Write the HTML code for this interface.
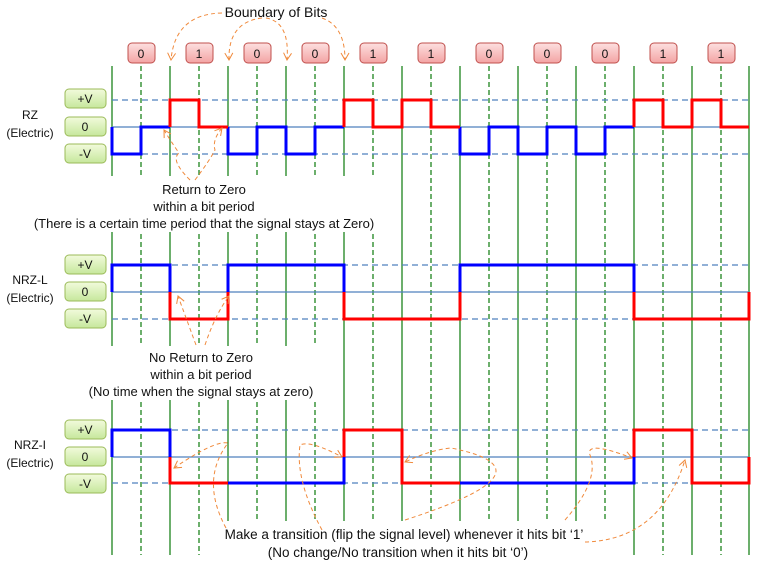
<!DOCTYPE html>
<html><head><style>
html,body{margin:0;padding:0;background:#fff;}
svg{display:block;}
text{font-family:"Liberation Sans",sans-serif;font-size:12px;fill:#111;}
.a{font-size:13px;}
.b{font-size:13.5px;}
</style></head><body>
<svg width="759" height="567" viewBox="0 0 759 567" xmlns="http://www.w3.org/2000/svg">
<defs>
<linearGradient id="gg" x1="0" y1="0" x2="0" y2="1"><stop offset="0" stop-color="#f2fbdc"/><stop offset="1" stop-color="#c6e79c"/></linearGradient>
<linearGradient id="pg" x1="0" y1="0" x2="0" y2="1"><stop offset="0" stop-color="#fde0e0"/><stop offset="1" stop-color="#f3a3a3"/></linearGradient>
<marker id="ar" markerWidth="10" markerHeight="10" refX="8" refY="5" orient="auto" markerUnits="userSpaceOnUse"><path d="M1,1 L8,5 L1,9" fill="none" stroke="#f08a3c" stroke-width="1"/></marker>
</defs>
<g stroke="#0a7a0a" stroke-width="1.2">
<line x1="112" y1="66" x2="112" y2="555"/><line x1="170" y1="66" x2="170" y2="555"/><line x1="228" y1="66" x2="228" y2="555"/><line x1="286" y1="66" x2="286" y2="555"/><line x1="344" y1="66" x2="344" y2="555"/><line x1="402" y1="66" x2="402" y2="555"/><line x1="460" y1="66" x2="460" y2="555"/><line x1="518" y1="66" x2="518" y2="555"/><line x1="576" y1="66" x2="576" y2="555"/><line x1="634" y1="66" x2="634" y2="555"/><line x1="692" y1="66" x2="692" y2="555"/><line x1="749" y1="66" x2="749" y2="555"/>
</g>
<g stroke="#0a7a0a" stroke-width="1.2" stroke-dasharray="5,3">
<line x1="141" y1="66" x2="141" y2="555"/><line x1="199" y1="66" x2="199" y2="555"/><line x1="257" y1="66" x2="257" y2="555"/><line x1="315" y1="66" x2="315" y2="555"/><line x1="373" y1="66" x2="373" y2="555"/><line x1="431" y1="66" x2="431" y2="555"/><line x1="489" y1="66" x2="489" y2="555"/><line x1="547" y1="66" x2="547" y2="555"/><line x1="605" y1="66" x2="605" y2="555"/><line x1="663" y1="66" x2="663" y2="555"/><line x1="721" y1="66" x2="721" y2="555"/>
</g>
<g fill="#fff">
<rect x="30" y="176" width="348" height="56"/>
<rect x="85" y="346" width="232" height="54"/>
<rect x="215" y="521" width="392" height="40"/>
<rect x="0" y="0" width="759" height="66"/>
</g>
<g stroke="#4f81bd" stroke-width="1.2">
<line x1="112" y1="127" x2="749" y2="127"/><line x1="112" y1="292" x2="749" y2="292"/><line x1="112" y1="457" x2="749" y2="457"/>
</g>
<g stroke="#4f81bd" stroke-width="1.2" stroke-dasharray="6,4">
<line x1="112" y1="100" x2="749" y2="100"/><line x1="112" y1="154" x2="749" y2="154"/>
<line x1="112" y1="265" x2="749" y2="265"/><line x1="112" y1="319" x2="749" y2="319"/>
<line x1="112" y1="430" x2="749" y2="430"/><line x1="112" y1="483" x2="749" y2="483"/>
</g>
<g fill="none" stroke-width="3" stroke-linejoin="miter">
<path stroke="#0000ff" d="M112,127 V154 H141 V127 H170 M228,127 V154 H257 V127 H286 V154 H315 V127 H344 M460,127 V154 H489 V127 H518 V154 H547 V127 H576 V154 H605 V127 H634"/>
<path stroke="#ff0000" d="M170,127 V100 H199 V127 H228 M344,127 V100 H373 V127 H402 V100 H431 V127 H460 M634,127 V100 H663 V127 H692 V100 H721 V127 H749"/>
<path stroke="#0000ff" d="M112,292 V265 H170 V292 M228,292 V265 H344 V292 M460,292 V265 H634 V292"/>
<path stroke="#ff0000" d="M170,292 V319 H228 V292 M344,292 V319 H460 V292 M634,292 V319 H749 V292"/>
<path stroke="#0000ff" d="M112,457 V430 H170 V457 M228,483 H344 V457 M460,483 H634 V457"/>
<path stroke="#ff0000" d="M170,457 V483 H228 M344,457 V430 H402 V483 H460 M634,457 V430 H692 V483 H749 V457"/>
</g>
<g stroke="#c0504d" stroke-width="1" fill="url(#pg)">
<rect x="128" y="43" width="27" height="20" rx="4"/><rect x="186" y="43" width="27" height="20" rx="4"/><rect x="244" y="43" width="27" height="20" rx="4"/><rect x="302" y="43" width="27" height="20" rx="4"/><rect x="360" y="43" width="27" height="20" rx="4"/><rect x="418" y="43" width="27" height="20" rx="4"/><rect x="476" y="43" width="27" height="20" rx="4"/><rect x="534" y="43" width="27" height="20" rx="4"/><rect x="592" y="43" width="27" height="20" rx="4"/><rect x="650" y="43" width="27" height="20" rx="4"/><rect x="708" y="43" width="27" height="20" rx="4"/>
</g>
<g text-anchor="middle">
<text x="141" y="58">0</text><text x="199" y="58">1</text><text x="257" y="58">0</text><text x="315" y="58">0</text><text x="373" y="58">1</text><text x="431" y="58">1</text><text x="489" y="58">0</text><text x="547" y="58">0</text><text x="605" y="58">0</text><text x="663" y="58">1</text><text x="721" y="58">1</text>
</g>
<g stroke="#9bbb59" stroke-width="1" fill="url(#gg)">
<rect x="65" y="89" width="41" height="19" rx="4"/><rect x="65" y="117" width="41" height="19" rx="4"/><rect x="65" y="144" width="41" height="19" rx="4"/>
<rect x="65" y="255" width="41" height="19" rx="4"/><rect x="65" y="282" width="41" height="19" rx="4"/><rect x="65" y="309" width="41" height="19" rx="4"/>
<rect x="65" y="420" width="41" height="19" rx="4"/><rect x="65" y="447" width="41" height="19" rx="4"/><rect x="65" y="474" width="41" height="19" rx="4"/>
</g>
<g text-anchor="middle">
<text x="85" y="103">+V</text><text x="85" y="131">0</text><text x="85" y="158">-V</text>
<text x="85" y="269">+V</text><text x="85" y="296">0</text><text x="85" y="323">-V</text>
<text x="85" y="434">+V</text><text x="85" y="461">0</text><text x="85" y="488">-V</text>
<text x="30" y="119">RZ</text><text x="30" y="137">(Electric)</text>
<text x="30" y="284">NRZ-L</text><text x="30" y="302">(Electric)</text>
<text x="30" y="449">NRZ-I</text><text x="30" y="467">(Electric)</text>
<text x="276" y="17" style="font-size:14px">Boundary of Bits</text>
<text class="a" x="204" y="194">Return to Zero</text>
<text class="a" x="204" y="211">within a bit period</text>
<text class="a" x="204" y="228">(There is a certain time period  that the signal stays at Zero)</text>
<text class="a" x="201" y="362">No Return to Zero</text>
<text class="a" x="201" y="379">within a bit period</text>
<text class="a" x="201" y="396">(No time when the signal stays at zero)</text>
<text class="b" x="404" y="539">Make a transition  (flip the signal level) whenever it hits bit ‘1’</text>
<text class="b" x="398" y="557">(No change/No  transition when it hits bit ‘0’)</text>
</g>
<g fill="none" stroke="#f08a3c" stroke-width="1" stroke-dasharray="4,3" marker-end="url(#ar)">
<path d="M222,13 Q175,14 171,60"/>
<path d="M262,18 Q228,22 229,60"/>
<path d="M266,18 Q290,22 287,60"/>
<path d="M322,18 Q345,26 345,60"/>
<path d="M190,180 Q170,160 179,153 Q170,140 164,130"/>
<path d="M195,180 Q210,160 215,150 Q212,140 222,128"/>
<path d="M196,345 Q185,315 178,296"/>
<path d="M205,345 Q215,315 229,296"/>
<path d="M226,528 Q200,480 228,443 Q215,440 174,468"/>
<path d="M322,530 Q295,480 300,445 Q310,440 342,457"/>
<path d="M405,520 Q560,470 451,448 Q430,450 405,462"/>
<path d="M565,520 Q600,480 590,455 Q585,440 632,458"/>
<path d="M585,542 Q660,540 685,460"/>
</g>
</svg>
</body></html>
